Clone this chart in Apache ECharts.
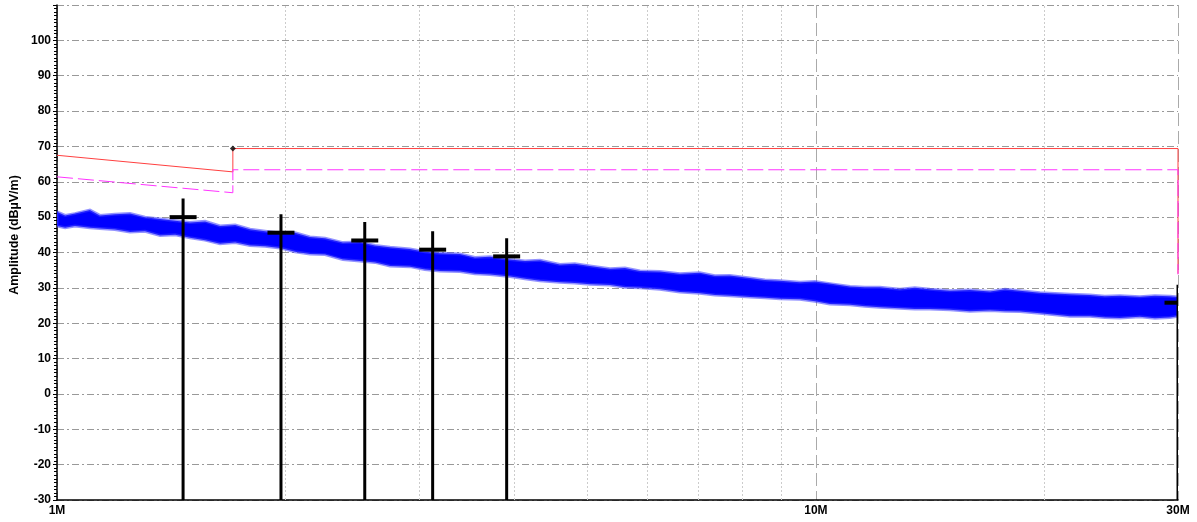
<!DOCTYPE html>
<html>
<head>
<meta charset="utf-8">
<script src="https://cdn.jsdelivr.net/npm/echarts@6/dist/echarts.min.js"></script>
<style>
html,body{margin:0;padding:0;background:#fff;}
#chart{width:1197px;height:522px;}
</style>
</head>
<body>
<div id="chart"></div>
<script>
// ---- data (frequencies in MHz, amplitudes in dBµV/m) ----
const noiseFreq = [1.00,1.025,1.056,1.105,1.139,1.192,1.248,1.306,1.367,1.431,1.497,1.567,1.640,1.717,1.796,1.880,1.967,2.059,2.154,2.255,2.381,2.507,2.624,2.747,2.918,3.053,3.196,3.396,3.554,3.720,3.953,4.137,4.329,4.599,4.813,5.038,5.354,5.603,5.864,6.230,6.619,7.032,7.360,7.703,8.184,8.564,8.966,9.526,9.970,10.43,11.09,11.60,12.14,12.90,13.50,14.13,15.02,15.95,16.96,17.75,18.57,19.73,20.65,21.61,22.96,24.03,25.15,26.72,27.97,29.27,30.0];
const noiseUpper = [51.5,50.5,51.0,52.0,50.5,50.8,51.0,50.0,49.5,49.0,48.5,48.8,47.5,47.8,46.6,46.0,45.5,45.6,44.4,44.0,42.8,43.0,42.0,41.5,41.0,40.2,39.8,39.6,38.6,38.8,38.0,37.6,37.8,36.6,36.8,36.2,35.4,35.6,34.8,34.6,34.0,34.3,33.4,33.5,32.8,32.2,32.0,31.6,31.8,31.2,30.4,30.2,30.2,29.6,30.0,29.6,29.2,29.4,29.0,29.6,29.2,28.6,28.4,28.2,28.0,27.6,27.8,27.5,27.8,27.6,27.4];
const noiseLower = [47.5,47.0,47.5,47.0,46.8,46.5,45.8,46.0,44.8,45.0,44.2,43.5,42.5,42.8,42.0,41.8,41.3,40.2,39.6,39.4,38.0,37.6,37.2,36.2,36.0,35.2,34.8,34.6,34.0,33.8,33.2,32.6,32.0,31.6,31.4,31.0,30.8,30.2,30.0,29.6,28.8,28.5,28.0,27.8,27.4,27.2,26.9,26.8,26.2,25.4,25.2,24.8,24.5,24.2,24.0,24.0,23.8,23.4,23.6,23.4,23.3,22.8,22.4,22.0,22.0,21.6,21.5,21.8,21.4,21.6,22.0];

const limitFreq = [1, 1.705, 1.705, 30, 30];
const limitPeak = [67.5, 62.8, 69.4, 69.4, 34.0];
const limitAvg  = [61.4, 56.9, 63.4, 63.4, 33.8];
const limitMarkFreq = [1.705];
const limitMarkValue = [69.4];

const markerFreq  = [1.466, 1.973, 2.544, 3.126, 3.913, 30];
const markerPeak  = [55.3, 50.8, 48.6, 46.0, 44.0, 30.9];
const markerLevel = [50.0, 45.6, 43.4, 40.8, 38.9, 25.8];

const minorGridFreq = [2, 3, 4, 5, 6, 7, 8, 9, 20];
const yMin = -30, yMax = 110, yStep = 10;
const xMin = 1, xMax = 30;
const yTitle = 'Amplitude (dBµV/m)';

// ---- chart ----
const chart = echarts.init(document.getElementById('chart'), null, {renderer: 'canvas'});
const FONT = 'Arial, "Liberation Sans", sans-serif';

const option = {
  animation: false,
  backgroundColor: '#ffffff',
  grid: {left: 57, right: 19, top: 5, bottom: 22, containLabel: false, outerBoundsMode: 'none'},
  xAxis: {
    type: 'log', logBase: 10, min: xMin, max: xMax,
    axisLine: {onZero: false, lineStyle: {color: '#000', width: 1.5}},
    axisTick: {show: false},
    minorTick: {show: false},
    axisLabel: {
      color: '#000', fontWeight: 'bold', fontSize: 12, fontFamily: FONT, margin: 5,
      showMinLabel: true, showMaxLabel: true,
      formatter: v => Math.round(v) + 'M'
    },
    splitLine: {show: true, lineStyle: {color: '#aaaaaa', width: 1, type: [13, 5]}}
  },
  yAxis: {
    type: 'value', min: yMin, max: yMax, interval: yStep,
    axisLine: {onZero: false, lineStyle: {color: '#000', width: 1.5}},
    axisTick: {show: true, length: 4, lineStyle: {color: '#000', width: 1}},
    minorTick: {show: true, splitNumber: 10, length: 3, lineStyle: {color: '#000', width: 1}},
    axisLabel: {
      color: '#000', fontWeight: 'bold', fontSize: 12, fontFamily: FONT, margin: 6,
      showMaxLabel: false
    },
    splitLine: {show: true, lineStyle: {color: '#999999', width: 1, type: [7, 3, 2, 3]}}
  },
  graphic: [{
    type: 'text', x: 15, y: 235, rotation: Math.PI / 2,
    style: {text: yTitle, font: 'bold 12.5px ' + FONT, fill: '#000', textAlign: 'center', textVerticalAlign: 'middle'}
  }],
  series: [
    {
      // minor vertical grid lines
      type: 'line', z: 1, silent: true,
      data: [[xMin, yMin]], showSymbol: false, lineStyle: {opacity: 0},
      markLine: {
        silent: true, z: 1, symbol: ['none', 'none'], label: {show: false},
        lineStyle: {color: '#cccccc', width: 1, type: [2, 2]},
        data: minorGridFreq.map(f => ({xAxis: f}))
      }
    },
    {
      // measured noise trace (band between envelopes)
      type: 'custom', z: 2, silent: true, clip: true,
      data: [[noiseFreq[0], noiseUpper[0]]],
      encode: {x: 0, y: 1},
      renderItem: function (params, api) {
        const pts = [];
        for (let i = 0; i < noiseFreq.length; i++) pts.push(api.coord([noiseFreq[i], noiseUpper[i]]));
        for (let i = noiseFreq.length - 1; i >= 0; i--) pts.push(api.coord([noiseFreq[i], noiseLower[i]]));
        return {
          type: 'polygon', shape: {points: pts},
          style: {fill: '#0000ff', stroke: 'rgba(60,60,255,0.55)', lineWidth: 3, lineJoin: 'miter'}
        };
      }
    },
    {
      type: 'line', z: 3, silent: true,
      data: limitFreq.map((f, i) => [f, limitPeak[i]]),
      showSymbol: false, lineStyle: {color: '#ff4040', width: 1}
    },
    {
      type: 'line', z: 3, silent: true,
      data: limitFreq.map((f, i) => [f, limitAvg[i]]),
      showSymbol: false, lineStyle: {color: '#ff33ff', width: 1, type: [16, 5]}
    },
    {
      type: 'scatter', z: 4, silent: true,
      data: limitMarkFreq.map((f, i) => [f, limitMarkValue[i]]),
      symbol: 'diamond', symbolSize: 6, itemStyle: {color: '#000'}
    },
    {
      // peak markers
      type: 'custom', z: 5, silent: true, clip: true,
      data: markerFreq.map((f, i) => [f, markerPeak[i], markerLevel[i]]),
      encode: {x: 0, y: [1, 2]},
      renderItem: function (params, api) {
        const f = api.value(0);
        const top = api.coord([f, api.value(1)]);
        const bot = api.coord([f, yMin]);
        const lv = api.coord([f, api.value(2)]);
        return {
          type: 'group',
          children: [
            {type: 'line', shape: {x1: top[0], y1: top[1], x2: bot[0], y2: bot[1]},
             style: {stroke: '#000', lineWidth: 3}},
            {type: 'rect', shape: {x: lv[0] - 13.5, y: lv[1] - 2, width: 27, height: 4},
             style: {fill: '#000'}}
          ]
        };
      }
    }
  ]
};
chart.setOption(option);
</script>
</body>
</html>
